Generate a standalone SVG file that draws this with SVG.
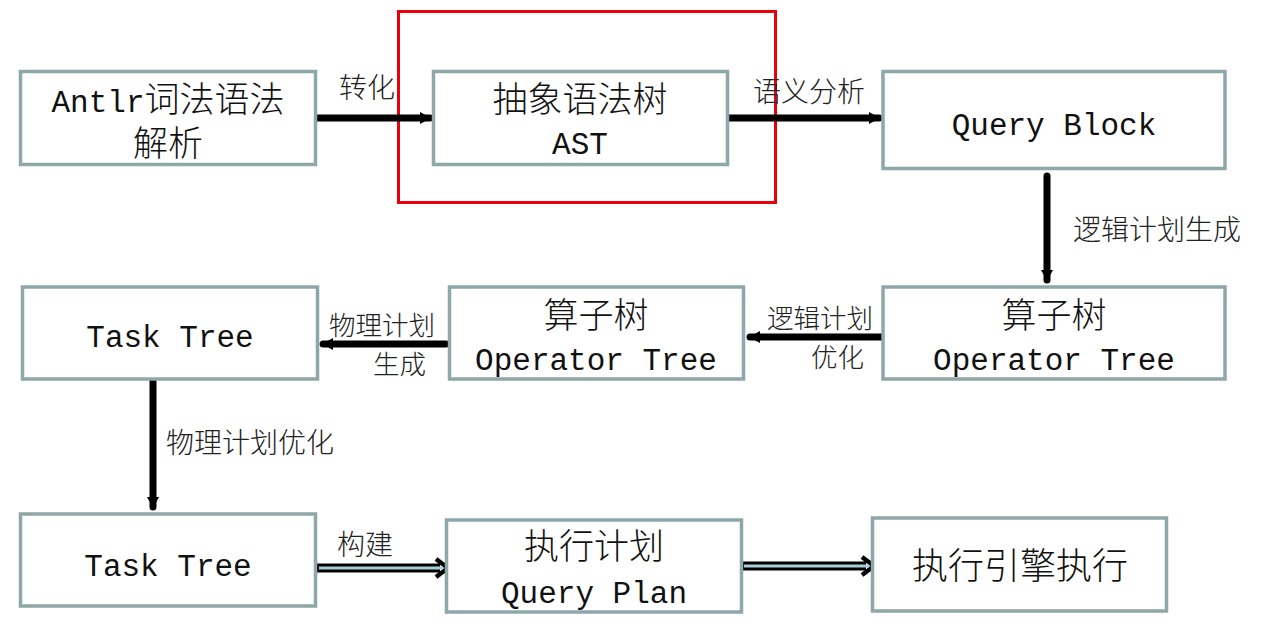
<svg xmlns="http://www.w3.org/2000/svg" width="1273" height="630" viewBox="0 0 1273 630">
<defs>
<style>
.box{fill:#fff;stroke:#8EA7A9;stroke-width:3.5}
.t{font-family:"Liberation Mono","Noto Sans CJK SC",monospace;fill:#111;text-anchor:middle;font-weight:300}
.lat{font-size:31px}
.cjk{font-size:35px}
.lbl{font-family:"Noto Sans CJK SC","Liberation Sans",sans-serif;font-size:28px;fill:#222;font-weight:300}
.lb2{font-size:26.5px}
.ln{stroke:#000;stroke-width:7;fill:none;stroke-linecap:round}
.dbo{stroke:#000;stroke-width:9;fill:none}
.dbi{stroke:#A9CED6;stroke-width:3;fill:none}
</style>
<marker id="ah" markerUnits="userSpaceOnUse" markerWidth="12" markerHeight="14" refX="10" refY="7" orient="auto">
<path d="M0,1 L11,7 L0,13 Z" fill="#000"/>
</marker>
</defs>
<rect x="398.5" y="11.5" width="377" height="191" fill="none" stroke="#E8000B" stroke-width="3"/>
<g id="connectors">
<line class="ln" x1="316" y1="118" x2="430" y2="118" marker-end="url(#ah)"/>
<line class="ln" x1="728" y1="118" x2="879" y2="118" marker-end="url(#ah)"/>
<line class="ln" x1="1047" y1="176" x2="1047" y2="280" marker-end="url(#ah)"/>
<line class="ln" x1="882" y1="337" x2="750" y2="337" marker-end="url(#ah)"/>
<line class="ln" x1="446" y1="344" x2="323" y2="344" marker-end="url(#ah)"/>
<line class="ln" x1="153" y1="381" x2="153" y2="507" marker-end="url(#ah)"/>
<g id="dbl1">
<path d="M317,568 H440" class="dbo"/>
<path d="M436,559 L448,568 L436,577" fill="none" stroke="#000" stroke-width="4.5" stroke-linejoin="miter"/>
<path d="M319,568 H443" class="dbi"/>
</g>
<g id="dbl2">
<path d="M742,566 H866" class="dbo"/>
<path d="M862,557 L874,566 L862,575" fill="none" stroke="#000" stroke-width="4.5" stroke-linejoin="miter"/>
<path d="M744,566 H869" class="dbi"/>
</g>
<text class="lbl" x="339" y="98">转化</text>
<text class="lbl" x="753" y="102">语义分析</text>
<text class="lbl" x="1073" y="240">逻辑计划生成</text>
<text class="lbl lb2"><tspan x="767" y="328">逻辑计划</tspan><tspan x="811" y="367">优化</tspan></text>
<text class="lbl lb2"><tspan x="329" y="335">物理计划</tspan><tspan x="373" y="374">生成</tspan></text>
<text class="lbl" x="166" y="453">物理计划优化</text>
<text class="lbl" x="337" y="555">构建</text>
</g>
<g id="n1">
<rect class="box" x="20.5" y="71.5" width="295" height="93"/>
<text class="t" x="168" y="112"><tspan class="lat">Antlr</tspan><tspan class="cjk">词法语法</tspan></text>
<text class="t cjk" x="168" y="156">解析</text>
</g>
<g id="n2">
<rect class="box" x="433.5" y="71.5" width="294" height="93"/>
<text class="t cjk" x="580" y="112">抽象语法树</text>
<text class="t lat" x="580" y="154">AST</text>
</g>
<g id="n3">
<rect class="box" x="883" y="71.5" width="342" height="97"/>
<text class="t lat" x="1054" y="135">Query Block</text>
</g>
<g id="n4">
<rect class="box" x="883" y="287" width="342" height="92"/>
<text class="t cjk" x="1054" y="328">算子树</text>
<text class="t lat" x="1054" y="370">Operator Tree</text>
</g>
<g id="n5">
<rect class="box" x="449.5" y="287" width="294" height="92"/>
<text class="t cjk" x="596" y="328">算子树</text>
<text class="t lat" x="596" y="370">Operator Tree</text>
</g>
<g id="n6">
<rect class="box" x="22.5" y="287" width="295" height="92"/>
<text class="t lat" x="170" y="347">Task Tree</text>
</g>
<g id="n7">
<rect class="box" x="20.5" y="514" width="295" height="92"/>
<text class="t lat" x="168" y="576">Task Tree</text>
</g>
<g id="n8">
<rect class="box" x="446.5" y="520" width="295" height="92"/>
<text class="t cjk" x="594" y="559">执行计划</text>
<text class="t lat" x="594" y="603">Query Plan</text>
</g>
<g id="n9">
<rect class="box" x="872.5" y="518" width="294" height="93"/>
<text class="t" x="1020" y="579" style="font-size:36px">执行引擎执行</text>
</g>
</svg>
